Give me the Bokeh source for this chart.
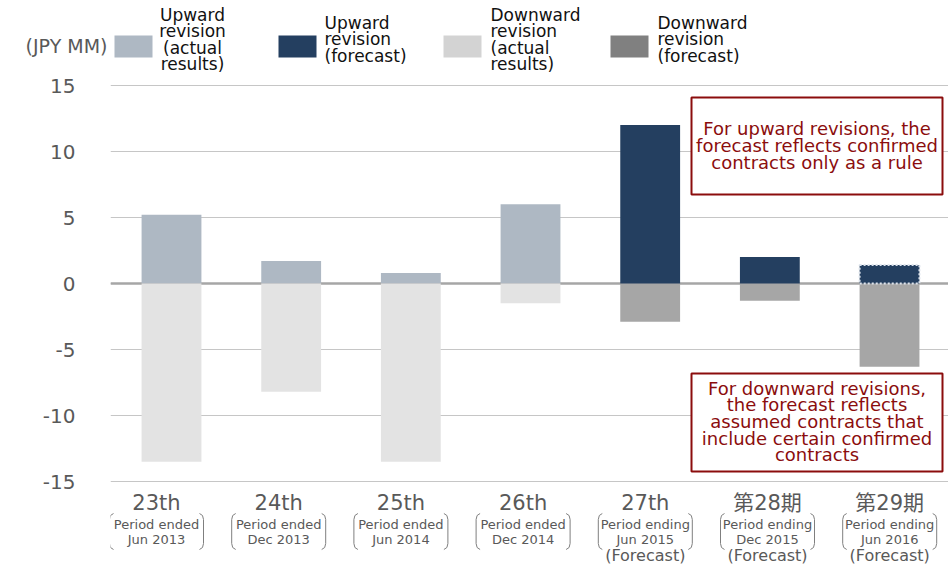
from bokeh.plotting import figure
from bokeh.layouts import column
from bokeh.models import Range1d, FixedTicker, Span
from bokeh.core.properties import value
from bokeh.embed import file_html
from bokeh.resources import INLINE

# ---------------- data ----------------
periods = ["23th", "24th", "25th", "26th", "27th", "第28期", "第29期"]
period_notes = ["Period ended\nJun 2013", "Period ended\nDec 2013", "Period ended\nJun 2014",
                "Period ended\nDec 2014", "Period ending\nJun 2015", "Period ending\nDec 2015",
                "Period ending\nJun 2016"]
forecast_tags = ["", "", "", "", "(Forecast)", "(Forecast)", "(Forecast)"]

actual_idx = [0, 1, 2, 3]
up_actual = [5.2, 1.7, 0.8, 6.0]
down_actual = [-13.5, -8.2, -13.5, -1.5]

forecast_idx = [4, 5, 6]
up_forecast = [12.0, 2.0, 1.4]
down_forecast = [-2.9, -1.3, -6.3]

y_ticks = [-15, -10, -5, 0, 5, 10, 15]
unit_label = "(JPY MM)"
legend_labels = ["Upward\nrevision\n(actual\nresults)", "Upward\nrevision\n(forecast)",
                 "Downward\nrevision\n(actual\n results)", "Downward\nrevision\n(forecast)"]
legend_colors = ["#aeb8c3", "#243f60", "#d3d3d3", "#808080"]
note_up = "For upward revisions, the\nforecast reflects confirmed\ncontracts only as a rule"
note_down = "For downward revisions,\nthe forecast reflects\nassumed contracts that\ninclude certain confirmed\ncontracts"

# ---------------- colours / fonts ----------------
C_UP_ACT = "#aeb8c3"
C_UP_FC = "#243f60"
C_DN_ACT = "#e3e3e3"
C_DN_FC = "#a6a6a6"
C_TEXT = "#595959"
C_NOTE = "#8b0d0d"
FONT = "DejaVu Sans, Noto Sans CJK JP"

# ---------------- layout helpers (page pixel -> data) ----------------
W, H = 948, 565
TOP_H = 73
LEFT = 110
PX, PY = 119.67, 13.2
X_ORIGIN, Y_ORIGIN = 171.0, 283.0


def dx(px):
    return (px - X_ORIGIN) / PX


def dy(py):
    return (Y_ORIGIN - py) / PY


# ---------------- header (legend + unit) ----------------
head = figure(width=W, height=TOP_H, output_backend="svg", toolbar_location=None,
              x_range=Range1d(dx(0), dx(W)), y_range=Range1d(dy(TOP_H), dy(0)),
              x_axis_location=None, y_axis_location=None,
              min_border_left=0, min_border_right=0, min_border_top=0, min_border_bottom=0)
head.frame_align = False
head.outline_line_color = None
head.xgrid.visible = False
head.ygrid.visible = False

leg_left_px = [114, 278, 443, 610]
head.quad(left=[dx(v) for v in leg_left_px], right=[dx(v + 38) for v in leg_left_px],
          top=dy(35), bottom=dy(57), fill_color=legend_colors, line_color=None)
head.text(x=[dx(192)], y=[dy(39)], text=legend_labels[:1], text_font=value(FONT),
          text_font_size="17px", text_color="#111111", text_align="center", text_baseline="middle",
          text_line_height=0.81)
head.text(x=[dx(324), dx(490), dx(657)], y=[dy(39), dy(39), dy(39)], text=legend_labels[1:],
          text_font=value(FONT), text_font_size="17px", text_color="#111111",
          text_align="left", text_baseline="middle", text_line_height=0.81)
head.text(x=[dx(107)], y=[dy(45)], text=[unit_label], text_font=value(FONT),
          text_font_size="19px", text_color=C_TEXT, text_align="right", text_baseline="middle")

# ---------------- chart ----------------
p = figure(width=W, height=H - TOP_H, output_backend="svg", toolbar_location=None,
           x_range=Range1d(dx(LEFT), dx(W)), y_range=Range1d(dy(H), dy(TOP_H)),
           x_axis_location=None, y_axis_location="left",
           min_border_left=LEFT, min_border_right=0, min_border_top=0, min_border_bottom=0)
p.frame_align = False
p.outline_line_color = None
p.background_fill_color = "white"
p.border_fill_color = "white"

ax = p.yaxis[0]
ax.ticker = FixedTicker(ticks=y_ticks)
ax.major_label_overrides = {t: str(t) for t in y_ticks}
ax.axis_line_color = None
ax.major_tick_line_color = None
ax.minor_tick_line_color = None
ax.major_tick_out = 0
ax.major_tick_in = 0
ax.major_label_standoff = 35
ax.major_label_text_font = FONT
ax.major_label_text_font_size = "20px"
ax.major_label_text_color = C_TEXT

p.xgrid.visible = False
p.ygrid.ticker = FixedTicker(ticks=y_ticks)
p.ygrid.grid_line_color = "#c6c6c6"
p.ygrid.grid_line_width = 1

p.add_layout(Span(location=0, dimension="width", line_color="#a6a6a6", line_width=2.5, level="underlay"))

BW = 0.5
p.vbar(x=actual_idx, top=up_actual, bottom=0, width=BW, fill_color=C_UP_ACT, line_color=None)
p.vbar(x=actual_idx, top=0, bottom=down_actual, width=BW, fill_color=C_DN_ACT, line_color=None)
p.vbar(x=forecast_idx, top=0, bottom=down_forecast, width=BW, fill_color=C_DN_FC, line_color=None)
p.vbar(x=forecast_idx[:2], top=up_forecast[:2], bottom=0, width=BW, fill_color=C_UP_FC, line_color=None)
p.vbar(x=forecast_idx[2:], top=up_forecast[2:], bottom=0, width=BW, fill_color=C_UP_FC,
       line_color="#dde3ec", line_dash="2 2", line_width=2)

# notes
p.quad(left=[dx(691), dx(691)], right=[dx(942), dx(942)], top=[dy(97), dy(373)],
       bottom=[dy(194), dy(471)], fill_color="white", line_color=C_NOTE, line_width=2)
p.text(x=[dx(816.5), dx(816.5)], y=[dy(145), dy(421)], text=[note_up, note_down],
       text_font=value(FONT), text_font_size="18px", text_color=C_NOTE,
       text_align="center", text_baseline="middle", text_line_height=0.79)

# category labels
lab_px = [156 + i * 122.2 for i in range(len(periods))]
lab_x = [dx(v) for v in lab_px]
p.text(x=lab_x, y=dy(502), text=periods, text_font=value(FONT), text_font_size="21px",
       text_color=C_TEXT, text_align="center", text_baseline="middle")
p.text(x=lab_x, y=dy(531.5), text=period_notes, text_font=value(FONT), text_font_size="13px",
       text_color=C_TEXT, text_align="center", text_baseline="middle", text_line_height=1.06)
p.text(x=lab_x, y=dy(554.5), text=forecast_tags, text_font=value(FONT), text_font_size="16px",
       text_color=C_TEXT, text_align="center", text_baseline="middle")

# brackets
bx_off = [43, 46, 47, 47, 46, 43]
by_px = [513, 515, 519, 543, 547, 549]
xs, ys = [], []
for c in lab_px:
    xs.append([dx(c - o) for o in bx_off])
    ys.append([dy(v) for v in by_px])
    xs.append([dx(c + o) for o in bx_off])
    ys.append([dy(v) for v in by_px])
p.multi_line(xs=xs, ys=ys, line_color="#7f7f7f", line_width=1)

layout = column(head, p, spacing=0)
open("out.html", "w").write(file_html(layout, INLINE))
